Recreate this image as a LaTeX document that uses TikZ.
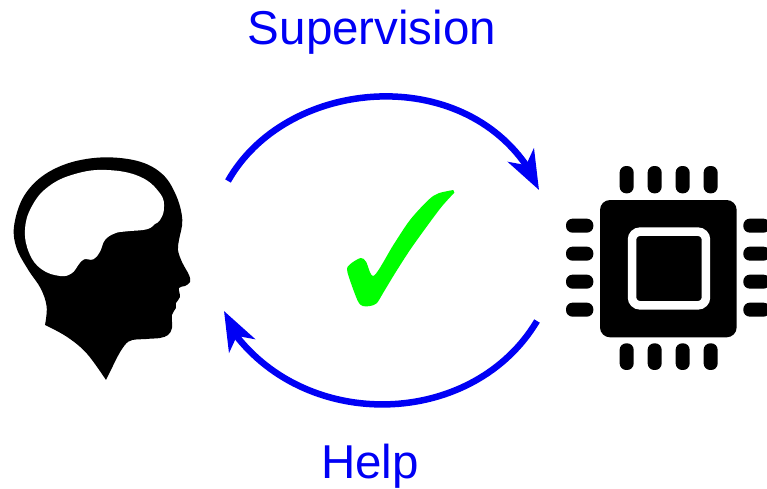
\documentclass[tikz,border=0pt]{standalone}
\usepackage{fontspec}
\setmainfont{Liberation Sans}
\usetikzlibrary{arrows.meta}
\definecolor{arcblue}{RGB}{0,0,245}
\definecolor{tickgreen}{RGB}{0,255,0}
\tikzset{
  cycleline/.style={draw=arcblue,line width=6.5pt,line join=round,-{Stealth[length=39pt,width=29pt,inset=11pt]}},
  lbl/.style={text=arcblue,font=\fontsize{47.5}{54}\selectfont,inner sep=0pt},
  pinv/.style={fill=black,rounded corners=6.5pt},
}
\begin{document}
\begin{tikzpicture}[x=1pt,y=-1pt]
\useasboundingbox (0,0) rectangle (767,488);
\fill[white] (0,0) rectangle (767,488);
\node[lbl] (sup) at (372,32) {Supervision};
\node[lbl] (help) at (370,466) {Help};
% head
\begin{scope}[shift={(0,140)},x=0.3333pt,y=-0.3333pt]
\fill[black] plot[smooth,tension=0.6] coordinates {(135,555)(140,500)(122,445)(85,390)(50,325)(42,260)(68,175)(125,110)(210,68)(315,52)(420,65)(490,105)(530,170)(547,240)(537,300)(534,330)(546,366)(567,405)(570,426)(555,438)(537,444)(540,471)(528,489)(528,504)(516,525)(516,564)(504,585)(480,594)(440,597)(385,605)(350,655)}
 -- (318,720) -- plot[smooth,tension=0.6] coordinates {(318,720)(260,640)(200,590)(135,555)} -- cycle;
\fill[white] plot[smooth cycle,tension=0.7] coordinates {(320,90)(420,110)(480,160)(492,205)(480,240)(465,252)(440,268)(380,274)(345,280)(315,300)(300,335)(280,358)(252,358)(235,375)(215,400)(180,408)(125,388)(88,340)(75,270)(95,200)(145,140)(225,102)};
\end{scope}
% tick
\begin{scope}[shift={(330,170)},x=0.3333pt,y=-0.3333pt]
\fill[tickgreen] plot[smooth,tension=0.5] coordinates {(373,68)(335,110)(290,170)(240,240)(195,310)(160,368)(140,400)(120,408)(98,408)(82,390)(52,305)(60,283)(92,264)(108,275)(132,317)(190,225)(240,150)(295,90)(325,70)(370,60)} -- cycle;
\end{scope}
% chip
\begin{scope}[shift={(550,150)},x=0.3333pt,y=-0.3333pt]
\fill[black,rounded corners=10pt] (150,150) rectangle (560,562);
\draw[white,line width=8.5pt,rounded corners=8pt] (246,245) rectangle (468,466);
\foreach \c in {230,314,398,482}{
  \fill[pinv] (\c-21,48) rectangle (\c+21,130);
  \fill[pinv] (\c-21,580) rectangle (\c+21,660);
}
\foreach \c in {227,311,395,479}{
  \fill[pinv] (48,\c-21) rectangle (130,\c+21);
  \fill[pinv] (580,\c-21) rectangle (660,\c+21);
}
\end{scope}
\coordinate (a1) at (228,181);
\coordinate (n1) at (526,165);
\coordinate (a2) at (539,190);
\coordinate (b1) at (537,321);
\coordinate (n2) at (238,338);
\coordinate (b2) at (224,311);
\draw[cycleline] (a1) .. controls (285,80) and (455,63) .. (n1) -- (a2);
\draw[cycleline] (b1) .. controls (475,425) and (315,433) .. (n2) -- (b2);
\end{tikzpicture}
\end{document}
